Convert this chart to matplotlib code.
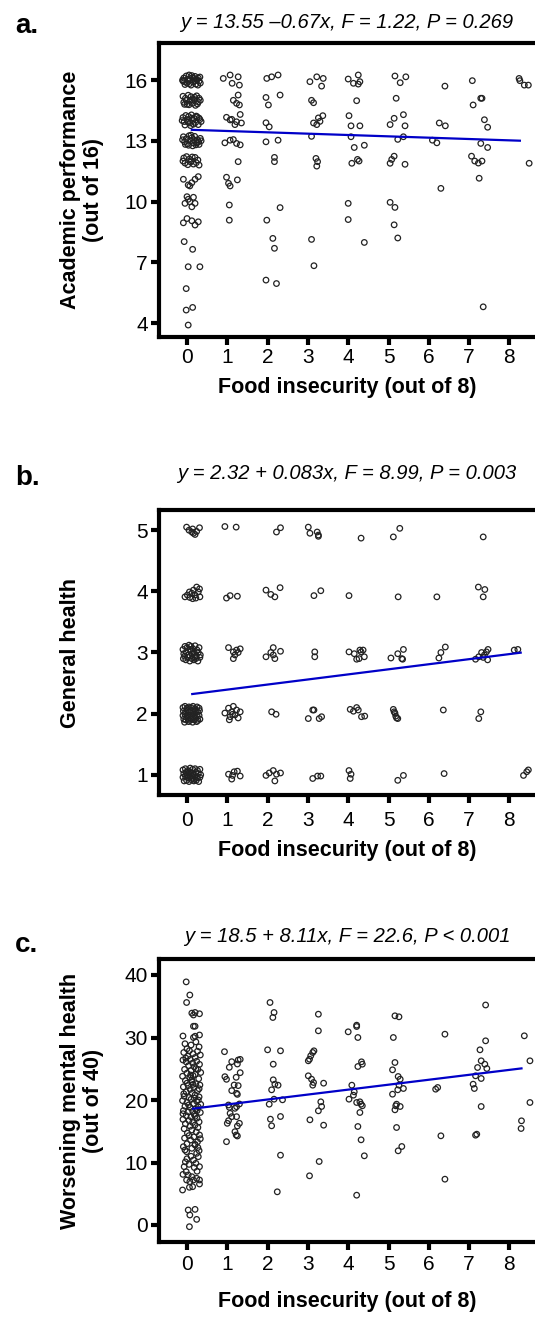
import matplotlib
matplotlib.use("Agg")
import matplotlib.pyplot as plt

plt.rcParams['font.family'] = ['Liberation Sans', 'DejaVu Sans']

# ---------------- data (jittered positions) ----------------
food_ticks = [0, 1, 2, 3, 4, 5, 6, 7, 8]

# a. academic performance (out of 16)
acad_pts = [
    # 16
    (-0.08, 16.1), (-0.02, 16.2), (0.05, 16.25), (0.12, 16.22), (0.2, 16.18), (0.28, 16.1), (-0.1, 15.95),
    (0.0, 15.85), (0.08, 16.0), (0.15, 15.9), (0.22, 15.8), (0.3, 15.95), (-0.05, 15.78), (0.1, 15.75),
    (0.25, 16.02), (0.33, 15.85), (0.02, 16.05), (0.18, 16.08), (-0.06, 15.92), (0.13, 16.12), (0.27, 15.75),
    (0.06, 15.82), (0.21, 15.97), (0.32, 16.15), (-0.11, 16.0),
    (0.9, 16.08), (1.07, 16.25), (1.27, 16.16), (1.12, 15.84), (1.3, 15.75), (1.98, 16.08), (2.1, 16.16),
    (2.26, 16.25), (3.05, 15.92), (3.22, 16.16), (3.38, 16.08), (3.34, 15.7), (4.0, 16.05), (4.13, 15.84),
    (4.25, 16.25), (4.29, 15.92), (4.25, 15.8), (5.16, 16.2), (5.29, 15.87), (5.43, 16.16), (6.4, 15.7),
    (7.08, 15.97), (8.24, 16.08), (8.26, 15.97), (8.37, 15.75), (8.47, 15.75),
    # 15
    (-0.1, 15.2), (-0.04, 15.1), (0.03, 15.25), (0.1, 15.18), (0.17, 15.05), (0.24, 15.22), (0.3, 15.1),
    (-0.08, 14.9), (0.0, 14.8), (0.07, 14.95), (0.14, 14.85), (0.21, 14.75), (0.28, 14.92), (-0.02, 15.0),
    (0.12, 15.02), (0.26, 14.82), (0.05, 14.78), (0.19, 15.15), (-0.06, 14.8), (0.33, 15.0),
    (1.27, 15.26), (1.15, 15.0), (1.23, 14.85), (1.3, 14.77), (1.96, 15.14), (2.31, 15.26), (2.02, 14.77),
    (3.09, 15.0), (3.14, 14.88), (4.21, 14.98), (5.19, 15.1), (7.1, 14.77), (7.29, 15.1), (7.32, 15.1),
    # 14
    (-0.1, 14.15), (-0.03, 14.25), (0.04, 14.2), (0.11, 14.28), (0.18, 14.1), (0.25, 14.18), (0.32, 14.05),
    (-0.07, 13.95), (0.0, 14.05), (0.07, 13.88), (0.14, 14.0), (0.21, 13.9), (0.28, 13.8), (0.35, 13.95),
    (-0.05, 13.78), (0.09, 13.75), (0.23, 14.22), (0.16, 13.82), (0.02, 13.92), (0.3, 14.12), (-0.12, 14.0),
    (0.12, 14.12),
    (0.98, 14.16), (1.11, 14.06), (1.23, 13.94), (1.32, 14.3), (1.19, 13.8), (1.35, 13.88), (1.07, 14.03),
    (1.96, 13.89), (2.04, 13.69), (3.14, 13.88), (3.26, 14.13), (3.37, 14.24), (3.22, 13.8), (3.3, 13.96),
    (4.02, 14.24), (4.07, 13.74), (4.29, 13.74), (5.04, 13.8), (5.14, 14.11), (5.37, 14.29), (5.41, 13.74),
    (6.26, 13.88), (6.41, 13.74), (7.38, 14.04), (7.46, 13.67),
    # 13
    (-0.09, 13.2), (-0.02, 13.1), (0.05, 13.25), (0.12, 13.15), (0.19, 13.22), (0.26, 13.05), (0.33, 13.12),
    (-0.06, 12.95), (0.01, 12.85), (0.08, 13.0), (0.15, 12.9), (0.22, 12.8), (0.29, 12.95), (-0.11, 13.05),
    (0.04, 12.78), (0.17, 13.05), (0.3, 12.82), (0.1, 13.28), (-0.04, 12.82), (0.24, 12.9), (0.14, 12.75),
    (0.35, 13.0),
    (0.94, 12.9), (1.07, 13.03), (1.15, 13.06), (1.23, 12.87), (1.32, 12.8), (1.96, 12.95), (2.26, 13.03),
    (3.09, 13.22), (4.07, 13.2), (4.15, 12.67), (4.4, 12.78), (5.23, 13.07), (5.37, 13.2), (6.09, 13.03),
    (6.2, 12.9), (7.29, 12.87), (7.46, 12.67),
    # 12
    (-0.08, 12.15), (-0.01, 12.22), (0.06, 12.1), (0.13, 12.2), (0.2, 12.18), (0.27, 12.05), (-0.05, 11.9),
    (0.02, 11.82), (0.09, 11.95), (0.16, 11.85), (0.23, 11.92), (0.3, 11.8), (0.11, 12.02), (-0.1, 12.0),
    (1.27, 11.97), (2.17, 12.18), (2.17, 11.97), (3.2, 12.13), (3.24, 11.97), (3.22, 11.75), (4.09, 11.89),
    (4.23, 12.08), (4.27, 12.0), (5.04, 11.89), (5.08, 12.08), (5.14, 12.24), (5.41, 11.84), (7.06, 12.24),
    (7.14, 12.0), (7.23, 11.9), (7.32, 12.0), (8.49, 11.89),
    # 11
    (-0.09, 11.1), (0.03, 10.82), (0.12, 10.93), (0.2, 11.1), (0.28, 11.23), (0.07, 10.77), (0.98, 11.2),
    (1.03, 10.9), (1.07, 10.77), (1.25, 11.07), (6.3, 10.65), (7.25, 11.15),
    # 10
    (0.0, 10.24), (0.07, 9.99), (0.12, 9.74), (-0.05, 9.91), (0.03, 10.11), (0.16, 10.21), (0.2, 9.91),
    (1.05, 9.83), (2.31, 9.7), (4.0, 9.91), (5.04, 9.96), (5.16, 9.71),
    # 9
    (-0.09, 8.95), (0.0, 9.16), (0.12, 9.05), (0.2, 8.84), (0.28, 9.0), (1.05, 9.08), (1.98, 9.08),
    (4.0, 9.11), (5.14, 8.85),
    # 8 and below
    (-0.07, 8.02), (0.14, 7.64), (2.13, 8.18), (2.17, 7.69), (3.09, 8.13), (4.4, 7.98), (5.23, 8.2),
    (0.03, 6.78), (0.32, 6.78), (3.15, 6.83),
    (1.96, 6.12), (2.22, 5.95), (-0.02, 5.7), (-0.02, 4.64), (0.14, 4.77), (0.03, 3.9), (7.35, 4.8),
]

# b. general health (1-5)
health_pts = [
    # 5
    (-0.01, 5.05), (0.05, 5.0), (0.12, 4.97), (0.16, 4.95), (0.2, 4.93), (0.24, 4.98), (0.31, 5.04),
    (0.14, 5.02), (0.94, 5.06), (1.22, 5.05), (2.22, 4.97), (2.32, 5.04), (3.01, 5.05), (3.05, 4.95),
    (3.23, 4.97), (3.26, 4.92), (3.26, 4.9), (4.32, 4.87), (5.12, 4.89), (5.28, 5.03), (7.35, 4.89),
    # 4
    (-0.05, 3.91), (0.01, 3.94), (0.07, 3.9), (0.12, 3.97), (0.16, 4.02), (0.2, 3.94), (0.24, 4.07),
    (0.28, 3.99), (0.32, 3.91), (0.06, 3.99), (0.14, 3.88), (0.22, 3.89), (0.31, 4.04),
    (0.98, 3.89), (1.07, 3.93), (1.25, 3.92), (1.96, 4.02), (2.08, 3.95), (2.18, 3.91), (2.31, 4.06),
    (3.15, 3.93), (3.32, 4.01), (4.02, 3.93), (5.24, 3.91), (6.2, 3.91), (7.23, 4.07), (7.39, 4.03),
    (7.35, 3.91),
    # 3
    (-0.1, 3.05), (-0.05, 3.1), (0.0, 3.08), (0.05, 3.12), (0.1, 3.1), (0.15, 3.06), (0.2, 3.11),
    (0.25, 3.04), (0.3, 3.08), (-0.08, 2.98), (-0.02, 3.0), (0.04, 2.96), (0.09, 3.02), (0.13, 2.98),
    (0.18, 3.0), (0.23, 2.95), (0.28, 3.0), (0.33, 2.96), (-0.09, 2.9), (-0.03, 2.88), (0.02, 2.92),
    (0.07, 2.86), (0.12, 2.9), (0.17, 2.88), (0.22, 2.9), (0.27, 2.86), (0.32, 2.92), (0.08, 3.05),
    (0.19, 2.93), (-0.06, 2.94),
    (1.03, 3.08), (1.15, 3.01), (1.19, 2.96), (1.23, 3.04), (1.32, 3.06), (1.15, 2.9), (1.27, 3.0),
    (1.96, 2.93), (2.08, 3.0), (2.14, 3.08), (2.18, 2.9), (2.32, 3.02), (2.14, 2.96), (3.17, 3.01),
    (3.17, 2.93), (4.02, 3.01), (4.15, 2.98), (4.21, 2.89), (4.29, 3.04), (4.32, 3.01), (4.37, 3.04),
    (4.4, 2.93), (4.27, 2.9), (5.06, 2.91), (5.23, 2.98), (5.33, 2.9), (5.37, 3.05), (5.35, 2.89),
    (6.25, 2.91), (6.3, 3.0), (6.41, 3.09), (7.16, 2.89), (7.24, 2.93), (7.31, 3.0), (7.38, 2.96),
    (7.43, 3.01), (7.47, 3.05), (7.46, 2.88), (7.35, 2.92), (8.12, 3.04), (8.21, 3.05),
    # 2
    (-0.1, 2.1), (-0.05, 2.12), (0.0, 2.09), (0.05, 2.11), (0.1, 2.1), (0.15, 2.12), (0.2, 2.08),
    (0.25, 2.11), (0.3, 2.09), (-0.09, 2.04), (-0.04, 2.02), (0.01, 2.05), (0.06, 2.03), (0.11, 2.05),
    (0.16, 2.02), (0.21, 2.04), (0.26, 2.03), (0.31, 2.05), (-0.1, 1.97), (-0.05, 1.99), (0.0, 1.96),
    (0.05, 1.98), (0.1, 1.97), (0.15, 1.99), (0.2, 1.96), (0.25, 1.98), (0.3, 1.97), (-0.08, 1.91),
    (-0.03, 1.9), (0.02, 1.92), (0.07, 1.89), (0.12, 1.91), (0.17, 1.9), (0.22, 1.92), (0.27, 1.89),
    (0.32, 1.91), (-0.06, 1.86), (0.04, 1.87), (0.14, 1.86), (0.24, 1.87),
    (0.94, 2.01), (1.03, 2.09), (1.07, 1.95), (1.11, 2.03), (1.15, 2.12), (1.19, 1.98), (1.23, 2.06),
    (1.27, 1.93), (1.32, 2.03), (1.05, 1.9), (1.13, 1.99), (2.1, 2.03), (2.21, 1.99), (3.01, 1.92),
    (3.12, 2.06), (3.15, 2.06), (3.28, 1.92), (3.34, 1.95), (4.05, 2.07), (4.13, 2.04), (4.21, 2.1),
    (4.25, 2.06), (4.33, 1.95), (4.41, 1.96), (5.12, 2.07), (5.16, 2.01), (5.18, 1.96), (5.2, 1.93),
    (5.23, 1.92), (5.14, 2.03), (6.36, 2.06), (7.24, 1.92), (7.29, 2.03),
    # 1
    (-0.1, 1.08), (-0.04, 1.1), (0.02, 1.07), (0.08, 1.11), (0.14, 1.09), (0.2, 1.1), (0.26, 1.07),
    (0.32, 1.09), (-0.08, 1.02), (-0.02, 1.04), (0.04, 1.01), (0.1, 1.03), (0.16, 1.0), (0.22, 1.04),
    (0.28, 1.02), (0.34, 1.0), (-0.1, 0.96), (-0.04, 0.98), (0.02, 0.95), (0.08, 0.97), (0.14, 0.94),
    (0.2, 0.97), (0.26, 0.95), (0.32, 0.96), (-0.07, 0.9), (-0.01, 0.91), (0.05, 0.89), (0.11, 0.92),
    (0.17, 0.9), (0.23, 0.91), (0.29, 0.89), (0.06, 1.05), (0.18, 0.93), (0.0, 0.99), (0.12, 0.98),
    (1.03, 1.01), (1.11, 0.93), (1.17, 1.05), (1.25, 1.06), (1.32, 0.98), (1.13, 0.99), (1.96, 0.99),
    (2.04, 1.03), (2.14, 1.07), (2.18, 0.9), (2.22, 1.01), (2.32, 1.03), (3.12, 0.94), (3.24, 0.98),
    (3.32, 0.98), (4.02, 1.07), (4.07, 1.01), (4.05, 0.94), (5.23, 0.91), (5.37, 0.99), (6.38, 1.02),
    (8.35, 0.99), (8.43, 1.05), (8.47, 1.08),
]

# c. worsening mental health (out of 40)
mental_pts = [
    # food insecurity 0
    (-0.02, 38.9), (0.07, 36.8), (-0.01, 35.6), (0.12, 33.9), (0.16, 33.6), (0.31, 33.8), (0.2, 34.0),
    (0.2, 31.8), (0.16, 31.8), (-0.1, 30.24), (0.16, 30.0), (0.2, 30.2), (0.31, 30.4),
    (-0.05, 29.0), (0.1, 28.8), (0.22, 29.3), (0.3, 28.5), (0.0, 28.2),
    (-0.08, 27.6), (0.06, 27.9), (0.15, 27.4), (0.26, 27.8), (0.33, 27.2), (0.02, 27.0), (0.2, 26.8),
    (-0.1, 26.4), (-0.02, 26.1), (0.08, 26.5), (0.14, 25.9), (0.24, 26.2), (0.31, 25.7), (0.04, 25.5),
    (0.18, 25.3), (-0.06, 24.9), (0.1, 24.7), (0.27, 24.9), (0.0, 24.3), (0.2, 24.1), (0.34, 24.4),
    (-0.11, 23.8), (0.07, 23.6), (0.15, 23.9), (0.29, 23.4), (-0.04, 23.1), (0.12, 22.9), (0.22, 22.6),
    (0.03, 22.3), (-0.09, 22.1), (0.17, 22.0), (0.32, 22.4), (0.08, 21.7), (0.26, 21.5), (-0.02, 21.3),
    (0.13, 21.1), (0.2, 20.8), (-0.07, 20.6), (0.05, 20.4), (0.3, 20.5), (0.1, 20.1), (-0.11, 19.9),
    (0.24, 19.8), (0.0, 19.6), (0.16, 19.4), (0.34, 19.3), (-0.05, 19.0), (0.08, 18.8), (0.21, 18.6),
    (0.28, 18.9), (-0.09, 18.3), (0.03, 18.1), (0.14, 18.2), (0.33, 18.0), (0.18, 17.7), (-0.02, 17.5),
    (0.1, 17.3), (0.25, 17.1), (-0.1, 16.9), (0.05, 16.7), (0.3, 16.5), (0.14, 16.4), (-0.04, 16.2),
    (0.2, 16.0), (0.08, 15.8), (0.27, 15.6), (-0.07, 15.4), (0.12, 15.2), (0.23, 14.9), (0.01, 14.7),
    (0.31, 14.4), (0.17, 14.1), (-0.06, 13.9), (0.09, 13.6), (0.26, 13.3), (0.0, 13.0), (0.2, 12.9),
    (0.33, 13.8), (0.05, 14.3), (0.22, 25.0), (0.12, 23.2), (-0.08, 21.0), (0.18, 20.3), (0.3, 21.8),
    (0.04, 19.2), (0.25, 18.3), (-0.03, 26.7), (0.15, 22.5), (0.09, 24.0), (0.28, 20.0), (-0.1, 17.8),
    (0.2, 17.4), (0.0, 22.7),
    (-0.09, 12.53), (-0.05, 12.0), (-0.01, 11.73), (0.12, 12.27), (0.2, 12.8), (0.24, 11.47), (0.28, 10.93),
    (0.16, 10.4), (0.22, 9.87), (0.31, 9.33), (-0.07, 9.33), (-0.02, 8.53), (0.03, 8.0), (0.12, 7.73),
    (-0.01, 7.2), (0.07, 6.93), (0.16, 7.2), (0.24, 7.47), (0.31, 7.2), (-0.11, 5.6), (0.06, 6.03),
    (0.14, 6.13), (0.31, 6.56), (0.1, 11.0), (0.3, 11.9), (0.0, 10.6), (-0.1, 8.1), (0.25, 8.6),
    (0.18, 9.2), (0.05, 9.7), (0.27, 12.4), (-0.04, 10.1),
    (0.03, 2.4), (0.2, 2.5), (0.07, 1.6), (0.24, 0.9), (0.06, -0.27),
    # 1
    (0.93, 27.73), (1.11, 26.13), (1.05, 25.23), (1.32, 26.5), (1.27, 26.4), (1.25, 25.76), (0.94, 23.73),
    (0.98, 23.31), (1.22, 23.63), (1.32, 24.37), (1.11, 21.5), (1.17, 22.4), (1.27, 22.3), (1.23, 21.07),
    (1.25, 20.9), (1.03, 19.2), (1.05, 18.83), (1.19, 18.67), (1.3, 19.36), (1.23, 18.93), (1.07, 17.87),
    (1.11, 17.33), (1.03, 16.69), (1.0, 16.27), (1.23, 17.33), (1.3, 16.27), (1.25, 15.84), (1.19, 14.93),
    (1.22, 14.4), (1.25, 14.24), (0.98, 13.33),
    # 2
    (2.06, 35.6), (2.16, 34.0), (2.13, 33.2), (2.0, 28.03), (2.32, 27.87), (2.14, 25.73), (2.14, 23.23),
    (2.18, 22.53), (2.26, 22.37), (2.1, 21.63), (2.16, 20.13), (2.04, 19.33), (2.37, 20.03), (2.07, 16.93),
    (2.32, 17.36), (2.1, 15.87), (2.32, 11.17), (2.24, 5.31),
    # 3
    (3.26, 33.73), (3.26, 31.07), (3.15, 27.87), (3.12, 27.6), (3.07, 27.07), (3.04, 26.53), (3.01, 26.27),
    (3.01, 23.87), (3.09, 23.33), (3.14, 22.8), (3.12, 22.37), (3.39, 22.69), (3.32, 19.71), (3.34, 18.96),
    (3.26, 18.27), (3.05, 16.83), (3.39, 15.97), (3.28, 10.16), (3.04, 7.87),
    # 4
    (4.0, 30.91), (4.21, 31.97), (4.21, 31.76), (4.24, 30.0), (4.33, 26.11), (4.35, 25.73), (4.24, 25.36),
    (4.09, 22.37), (4.15, 21.31), (4.13, 20.77), (4.02, 20.13), (4.21, 19.6), (4.29, 19.71), (4.32, 19.33),
    (4.35, 19.07), (4.29, 18.0), (4.24, 15.76), (4.32, 13.63), (4.4, 11.07), (4.21, 4.77),
    # 5
    (5.16, 33.47), (5.26, 33.31), (5.12, 30.0), (5.16, 26.0), (5.1, 24.83), (5.24, 23.76), (5.29, 23.33),
    (5.26, 22.37), (5.23, 21.63), (5.37, 21.84), (5.1, 20.93), (5.2, 19.33), (5.18, 19.07), (5.29, 18.96),
    (5.16, 18.43), (5.2, 15.6), (5.24, 11.87), (5.33, 12.56),
    # 6
    (6.4, 30.53), (6.22, 22.0), (6.17, 21.73), (6.3, 14.27), (6.4, 7.33),
    # 7
    (7.41, 35.2), (7.41, 29.47), (7.27, 28.03), (7.3, 26.27), (7.39, 25.73), (7.44, 25.04), (7.21, 25.2),
    (7.16, 23.87), (7.3, 23.44), (7.1, 22.53), (7.13, 21.84), (7.3, 18.96), (7.19, 14.53), (7.16, 14.37),
    # 8
    (8.37, 30.27), (8.51, 26.27), (8.51, 19.6), (8.3, 16.67), (8.29, 15.44),
]

# fitted lines (intercept, slope as drawn) and x-range of the drawn line
fit_intercept = [13.55, 2.31, 18.5]
fit_slope = [-0.066, 0.083, 0.79]
fit_xrange = [(0.12, 8.26), (0.13, 8.28), (0.15, 8.3)]

titles = ["y = 13.55 \u20130.67x, F = 1.22, P = 0.269",
          "y = 2.32 + 0.083x, F = 8.99, P = 0.003",
          "y = 18.5 + 8.11x, F = 22.6, P < 0.001"]
letters = ["a.", "b.", "c."]
ylabels = ["Academic performance\n(out of 16)", "General health", "Worsening mental health\n(out of 40)"]
yticks = [[4, 7, 10, 13, 16], [1, 2, 3, 4, 5], [0, 10, 20, 30, 40]]
ylims = [(3.31, 17.83), (0.67, 5.33), (-2.72, 42.56)]
xlabel = "Food insecurity (out of 8)"

# ---------------- layout (pixels of the 535x1317 canvas) ----------------
W, H = 535, 1317
fig = plt.figure(figsize=(W / 100, H / 100), dpi=100)

boxes = [(159, 43, 535, 337), (159, 510, 535, 795), (159, 959, 535, 1242)]
title_pad = [11, 22, 12]
letter_base = [33, 485, 952]
xtick_pad = [2.0, 5.5, 3.5]
xlabel_pad = [7, 7, 12]

for i, pts in enumerate([acad_pts, health_pts, mental_pts]):
    l, t, r, b = boxes[i]
    ax = fig.add_axes([l / W, 1 - b / H, (r - l) / W, (b - t) / H])
    xs = [p[0] for p in pts]
    ys = [p[1] for p in pts]
    ax.scatter(xs, ys, s=16, facecolors='none', edgecolors='#222222', linewidths=0.9, zorder=2)

    x0, x1 = fit_xrange[i]
    ax.plot([x0, x1], [fit_intercept[i] + fit_slope[i] * x0, fit_intercept[i] + fit_slope[i] * x1],
            color='#0000c8', lw=1.6, zorder=3)

    ax.set_xlim(-(187 - 159) / 40.3, (535 - 187) / 40.3)
    ax.set_ylim(*ylims[i])
    ax.set_xticks(food_ticks)
    ax.set_yticks(yticks[i])

    for side in ['left', 'bottom', 'top']:
        ax.spines[side].set_linewidth(3)
    ax.spines['right'].set_visible(False)
    ax.tick_params(width=3, length=6, labelsize=15, direction='out')
    ax.tick_params(axis='x', pad=xtick_pad[i])
    ax.tick_params(axis='y', pad=2)

    ax.set_title(titles[i], fontsize=14.5, style='italic', pad=title_pad[i])
    ax.set_xlabel(xlabel, fontsize=15.5, fontweight='bold', labelpad=xlabel_pad[i])

    fig.text(60 / W, 1 - (t + b) / 2 / H, ylabels[i], rotation=90, ha='left', va='center',
             multialignment='center', fontsize=15.5, fontweight='bold', linespacing=1.15)
    fig.text(15 / W, 1 - letter_base[i] / H, letters[i], fontsize=20, fontweight='bold', va='baseline')

fig.savefig("out.png", dpi=100)
